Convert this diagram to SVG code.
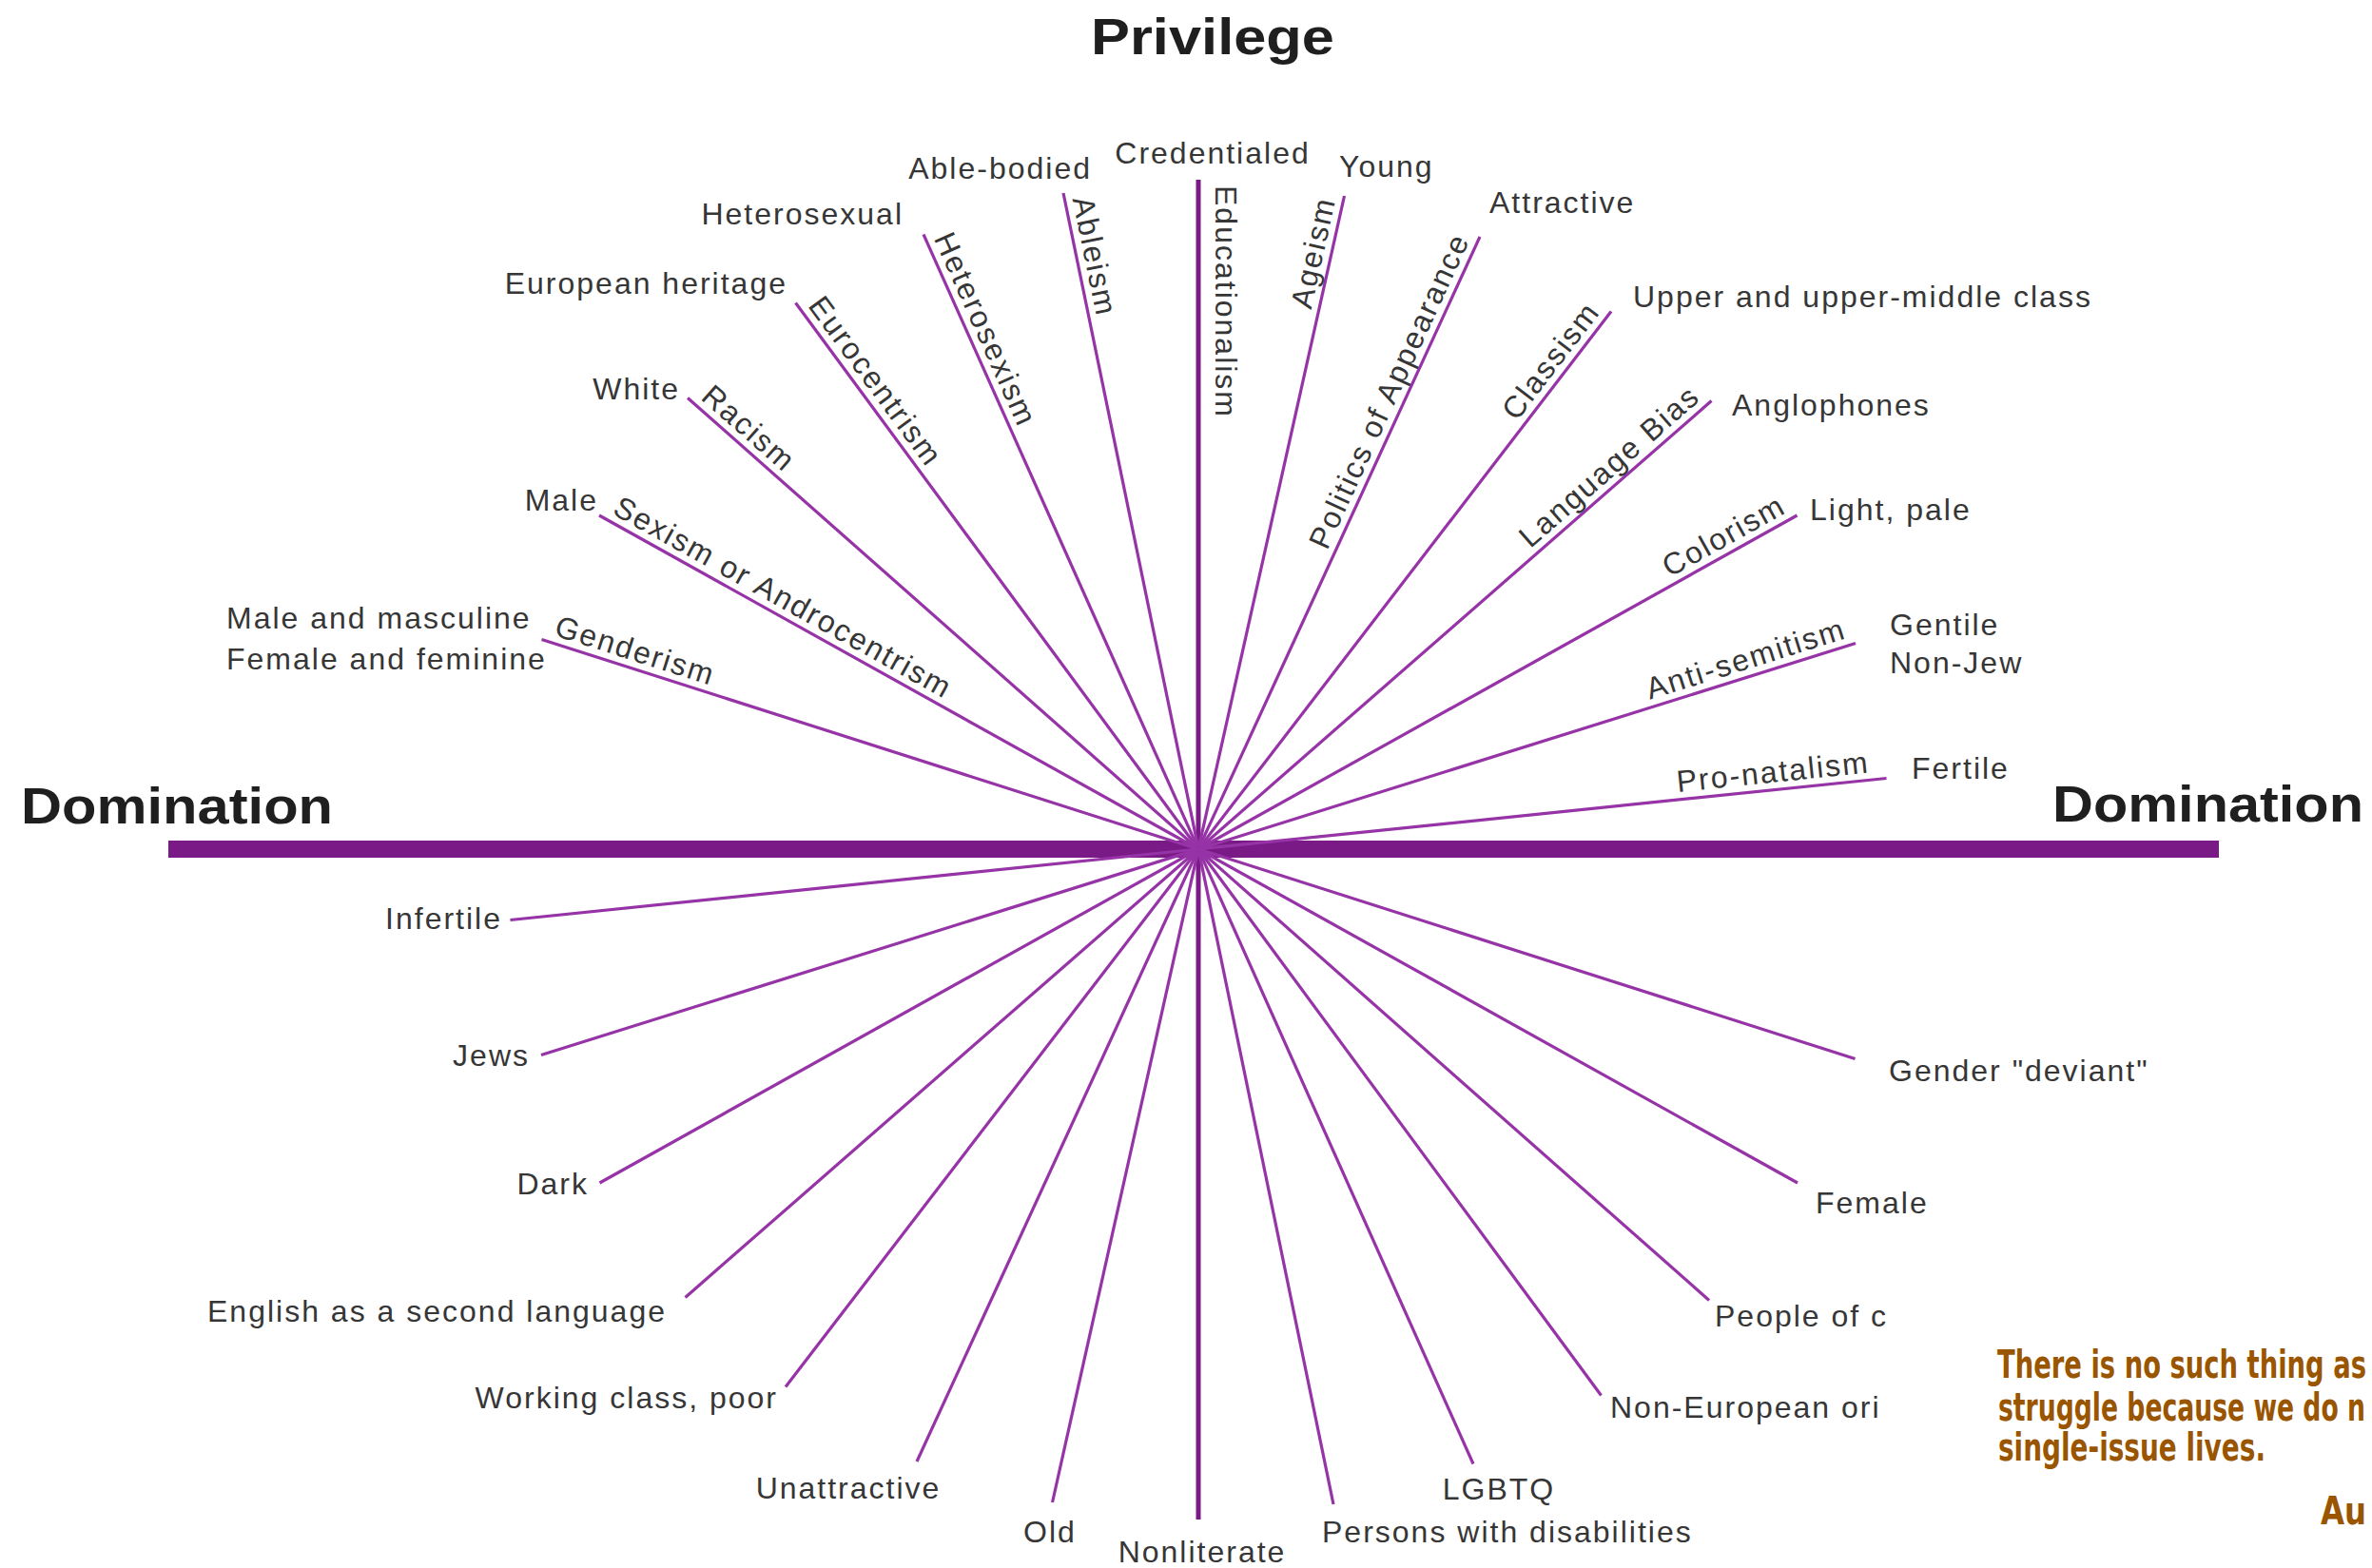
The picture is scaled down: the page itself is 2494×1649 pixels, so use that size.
<svg xmlns="http://www.w3.org/2000/svg" width="2494" height="1649" viewBox="0 0 2494 1649">
<style>
.lbl{font-family:"Liberation Sans",Arial,sans-serif;font-size:32px;fill:#363636;letter-spacing:2px}
.end{text-anchor:end}
.mid{text-anchor:middle}
.title{font-family:"Liberation Sans",Arial,sans-serif;font-weight:bold;font-size:54px;fill:#1f1f1f}
.quote{font-family:"Liberation Sans Narrow","DejaVu Sans Condensed",sans-serif;font-weight:bold;fill:#9a5500;font-size:40px}
.spoke{stroke:#9633a6;stroke-width:3.2;fill:none}
.axis{stroke:#7a1a86;stroke-width:5;fill:none}
.bar{stroke:#7a1a86;stroke-width:18;fill:none}
</style>
<rect width="2494" height="1649" fill="#ffffff"/>
<g id="connectors">
  <line class="bar" x1="177" y1="893" x2="2333" y2="893"/>
  <line class="axis" x1="1260" y1="189" x2="1260" y2="1598"/>
  <line class="spoke" x1="1118" y1="203" x2="1402" y2="1582"/>
  <line class="spoke" x1="971" y1="246.5" x2="1549" y2="1539.5"/>
  <line class="spoke" x1="836.5" y1="318.5" x2="1683.5" y2="1467.5"/>
  <line class="spoke" x1="723" y1="418.5" x2="1797" y2="1367.5"/>
  <line class="spoke" x1="630" y1="542" x2="1890" y2="1244"/>
  <line class="spoke" x1="569.5" y1="672.5" x2="1950.5" y2="1113.5"/>
  <line class="spoke" x1="1413.5" y1="206" x2="1106.5" y2="1580"/>
  <line class="spoke" x1="1556" y1="249" x2="964" y2="1537"/>
  <line class="spoke" x1="1694" y1="327.5" x2="826" y2="1458.5"/>
  <line class="spoke" x1="1799.5" y1="421.5" x2="720.5" y2="1364.5"/>
  <line class="spoke" x1="1889.5" y1="542" x2="630.5" y2="1244"/>
  <line class="spoke" x1="1951" y1="676.5" x2="569" y2="1109.5"/>
  <line class="spoke" x1="1983.5" y1="818.5" x2="536.5" y2="967.5"/>
</g>
<g id="title-privilege"><text class="title" x="1147" y="57" textLength="256" lengthAdjust="spacingAndGlyphs">Privilege</text></g>
<g id="title-domination-left"><text class="title" x="22" y="866" textLength="328" lengthAdjust="spacingAndGlyphs">Domination</text></g>
<g id="title-domination-right"><text class="title" x="2158" y="864" textLength="327" lengthAdjust="spacingAndGlyphs">Domination</text></g>

<g id="node-educationalism">
  <text class="lbl mid" x="1275" y="172">Credentialed</text>
  <text class="lbl" transform="translate(1260,189) rotate(90)" x="6" y="-18">Educationalism</text>
</g>
<g id="node-ableism">
  <text class="lbl end" x="1148" y="188">Able-bodied</text>
  <text class="lbl" transform="translate(1118,203) rotate(78.37)" x="8" y="-8">Ableism</text>
</g>
<g id="node-heterosexism">
  <text class="lbl end" x="950" y="236">Heterosexual</text>
  <text class="lbl" transform="translate(971,246.5) rotate(65.91)" x="8" y="-8">Heterosexism</text>
</g>
<g id="node-eurocentrism">
  <text class="lbl end" x="828" y="309">European heritage</text>
  <text class="lbl" transform="translate(836.5,318.5) rotate(53.6)" x="10" y="-8">Eurocentrism</text>
</g>
<g id="node-racism">
  <text class="lbl end" x="715" y="420">White</text>
  <text class="lbl" transform="translate(723,418.5) rotate(41.46)" x="10" y="-8">Racism</text>
</g>
<g id="node-sexism">
  <text class="lbl end" x="629" y="537">Male</text>
  <text class="lbl" transform="translate(630,542) rotate(29.12)" x="10" y="-8">Sexism or Androcentrism</text>
</g>
<g id="node-genderism">
  <text class="lbl" x="238" y="661">Male and masculine</text>
  <text class="lbl" x="238" y="704">Female and feminine</text>
  <text class="lbl" transform="translate(569.5,672.5) rotate(17.71)" x="10" y="-8">Genderism</text>
</g>
<g id="node-ageism">
  <text class="lbl" x="1408" y="186">Young</text>
  <text class="lbl end" transform="translate(1260,893) rotate(-77.41)" x="698" y="-8">Ageism</text>
</g>
<g id="node-appearance">
  <text class="lbl" x="1566" y="224">Attractive</text>
  <text class="lbl end" transform="translate(1260,893) rotate(-65.32)" x="702" y="-8">Politics of Appearance</text>
</g>
<g id="node-classism">
  <text class="lbl" x="1717" y="323">Upper and upper-middle class</text>
  <text class="lbl end" transform="translate(1260,893) rotate(-52.5)" x="706" y="-8">Classism</text>
</g>
<g id="node-language">
  <text class="lbl" x="1821" y="437">Anglophones</text>
  <text class="lbl end" transform="translate(1260,893) rotate(-41.16)" x="710" y="-8">Language Bias</text>
</g>
<g id="node-colorism">
  <text class="lbl" x="1903" y="547">Light, pale</text>
  <text class="lbl end" transform="translate(1260,893) rotate(-29.14)" x="714" y="-8">Colorism</text>
</g>
<g id="node-antisemitism">
  <text class="lbl" x="1987" y="668">Gentile</text>
  <text class="lbl" x="1987" y="708">Non-Jew</text>
  <text class="lbl end" transform="translate(1260,893) rotate(-17.4)" x="718" y="-8">Anti-semitism</text>
</g>
<g id="node-pronatalism">
  <text class="lbl" x="2010" y="819">Fertile</text>
  <text class="lbl end" transform="translate(1260,893) rotate(-5.88)" x="711" y="-8">Pro-natalism</text>
</g>

<g id="node-infertile"><text class="lbl end" x="528" y="977">Infertile</text></g>
<g id="node-jews"><text class="lbl end" x="557" y="1121">Jews</text></g>
<g id="node-dark"><text class="lbl end" x="619" y="1256">Dark</text></g>
<g id="node-esl"><text class="lbl end" x="701" y="1390">English as a second language</text></g>
<g id="node-working"><text class="lbl end" x="818" y="1481">Working class, poor</text></g>
<g id="node-unattractive"><text class="lbl mid" x="892" y="1576">Unattractive</text></g>
<g id="node-old"><text class="lbl mid" x="1104" y="1622">Old</text></g>
<g id="node-nonliterate"><text class="lbl mid" x="1264" y="1643">Nonliterate</text></g>
<g id="node-persons"><text class="lbl" x="1390" y="1622">Persons with disabilities</text></g>
<g id="node-lgbtq"><text class="lbl mid" x="1576" y="1577">LGBTQ</text></g>
<g id="node-noneuropean"><text class="lbl" x="1693" y="1491">Non-European ori</text></g>
<g id="node-poc"><text class="lbl" x="1803" y="1395">People of c</text></g>
<g id="node-female"><text class="lbl" x="1909" y="1276">Female</text></g>
<g id="node-deviant"><text class="lbl" x="1986" y="1137">Gender "deviant"</text></g>

<g id="quote">
  <text class="quote" x="2100" y="1449" textLength="388" lengthAdjust="spacingAndGlyphs">There is no such thing as</text>
  <text class="quote" x="2101" y="1494" textLength="386" lengthAdjust="spacingAndGlyphs">struggle because we do n</text>
  <text class="quote" x="2101" y="1536" textLength="281" lengthAdjust="spacingAndGlyphs">single-issue lives.</text>
  <text class="quote" x="2440" y="1603" font-size="58" textLength="48" lengthAdjust="spacingAndGlyphs">Au</text>
</g>
</svg>
